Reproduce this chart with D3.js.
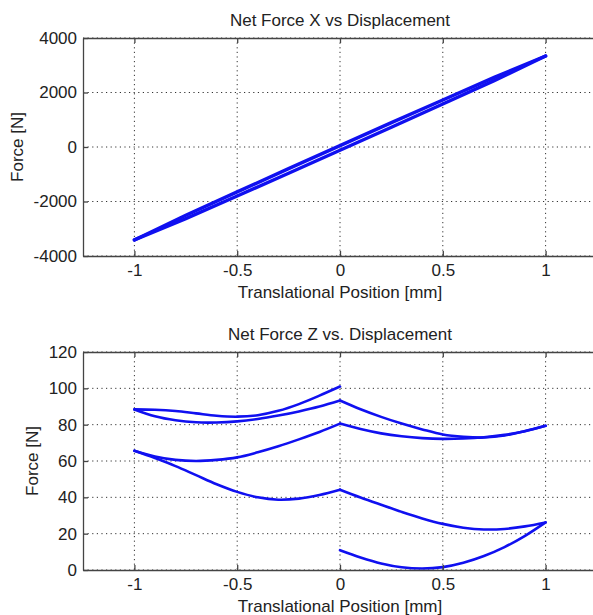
<!DOCTYPE html>
<html>
<head>
<meta charset="utf-8">
<script src="https://cdn.jsdelivr.net/npm/d3@7"></script>
<style>
  html, body { margin: 0; padding: 0; background: #fff; }
  svg { display: block; }
  text { font-family: Arial, "Liberation Sans", sans-serif; fill: #222; }
</style>
</head>
<body>
<svg id="chart" width="593" height="615"></svg>
<script>
// ---------- DATA ----------
const xTicks = [-1, -0.5, 0, 0.5, 1];
const yTicksX = [-4000, -2000, 0, 2000, 4000];
const yTicksZ = [0, 20, 40, 60, 80, 100, 120];

// Net Force X: hysteresis loop (two branches)
const fxPos = [-1, -0.75, -0.5, -0.25, 0, 0.25, 0.5, 0.75, 1];
const fxUpper = [-3410, -2506, -1647, -794, 50, 894, 1727, 2556, 3340];
const fxLower = [-3410, -2626, -1797, -964, -120, 724, 1577, 2436, 3340];

// Net Force Z: sweep segments in time order
const zLeft = [0, -0.1, -0.2, -0.3, -0.4, -0.5, -0.6, -0.7, -0.8, -0.9, -1];
const zRightFromNeg = [-1, -0.9, -0.8, -0.7, -0.6, -0.5, -0.4, -0.3, -0.2, -0.1, 0];
const zRight = [0, 0.1, 0.2, 0.3, 0.4, 0.5, 0.6, 0.7, 0.8, 0.9, 1];
const zBack = [1, 0.9, 0.8, 0.7, 0.6, 0.5, 0.4, 0.3, 0.2, 0.1, 0];

const zSegA = [101, 96, 91.3, 87.6, 85.2, 84.4, 84.9, 86.2, 87.5, 88.2, 88.4];   // 0 -> -1
const zSegB = [88.4, 84.6, 82.4, 81.3, 81.2, 81.8, 83.1, 85.0, 87.3, 90.0, 93.3]; // -1 -> 0
const zSegC = [93.3, 88.5, 84.3, 80.6, 77.4, 74.6, 73.3, 72.9, 74.0, 76.5, 79.4]; // 0 -> 1
const zSegD = [79.4, 76.4, 74.4, 73.1, 72.4, 72.2, 72.6, 73.6, 75.2, 77.6, 80.6]; // 1 -> 0
const zSegE = [80.6, 76.0, 71.9, 68.1, 64.8, 62.0, 60.6, 60.0, 60.6, 62.5, 65.6]; // 0 -> -1
const zSegF = [65.6, 61.6, 57.2, 52.2, 47.2, 43.0, 40.0, 38.7, 39.3, 41.3, 44.2]; // -1 -> 0
const zSegG = [44.2, 39.9, 35.9, 32.0, 28.4, 25.4, 23.3, 22.3, 22.6, 24.0, 26.2]; // 0 -> 1
const zSegH = [26.2, 18.8, 12.6, 7.7, 4.0, 1.6, 0.8, 1.5, 3.6, 6.9, 10.9];      // 1 -> 0

// ---------- DRAW ----------
const svg = d3.select("#chart");
const blue = "#1010f0";
const axisColor = "#444";
const fmt = d => String(d);

function panel(cfg) {
  const x = d3.scaleLinear().domain([-1.25, 1.25]).range([83, 597]);
  const y = d3.scaleLinear().domain(cfg.yDomain).range([cfg.bottom, cfg.top]);
  const g = svg.append("g");

  // grid
  g.append("g").selectAll("line").data(xTicks).join("line")
    .attr("x1", d => x(d)).attr("x2", d => x(d))
    .attr("y1", cfg.top).attr("y2", cfg.bottom)
    .attr("stroke", "#333").attr("stroke-width", 1).attr("stroke-dasharray", "1.2,3.4");
  g.append("g").selectAll("line").data(cfg.yTicks).join("line")
    .attr("x1", 83).attr("x2", 597)
    .attr("y1", d => y(d)).attr("y2", d => y(d))
    .attr("stroke", "#333").attr("stroke-width", 1).attr("stroke-dasharray", "1.2,3.4");

  // data
  const clipId = "clip" + cfg.top;
  svg.append("clipPath").attr("id", clipId).append("rect")
    .attr("x", 83).attr("y", cfg.top - 3).attr("width", 520).attr("height", cfg.bottom - cfg.top + 3);
  const dg = g.append("g").attr("clip-path", `url(#${clipId})`);
  cfg.draw(dg, x, y);

  // axes
  const ax = g.append("g").attr("transform", `translate(0,${cfg.bottom})`)
    .call(d3.axisBottom(x).tickValues(xTicks).tickFormat(fmt).tickSizeInner(-5).tickSizeOuter(0).tickPadding(8));
  const axT = g.append("g").attr("transform", `translate(0,${cfg.top})`)
    .call(d3.axisTop(x).tickValues(xTicks).tickFormat("").tickSizeInner(-5).tickSizeOuter(0));
  const ay = g.append("g").attr("transform", `translate(83,0)`)
    .call(d3.axisLeft(y).tickValues(cfg.yTicks).tickFormat(fmt).tickSizeInner(-5).tickSizeOuter(0).tickPadding(6));
  [ax, axT, ay].forEach(a => {
    a.select(".domain").attr("stroke", axisColor).attr("stroke-width", 1.3);
    a.selectAll(".tick line").attr("stroke", axisColor).attr("stroke-width", 1.3);
    a.selectAll("text").attr("font-size", 17).attr("fill", "#222")
      .style("font-family", 'Arial, "Liberation Sans", sans-serif');
  });

  // titles & labels
  g.append("text").attr("x", 340).attr("y", cfg.top - 18).attr("text-anchor", "middle")
    .attr("dominant-baseline", "central").attr("font-size", 17).text(cfg.title);
  g.append("text").attr("x", 340).attr("y", cfg.bottom + 36).attr("text-anchor", "middle")
    .attr("dominant-baseline", "central").attr("font-size", 17).text("Translational Position [mm]");
  g.append("text").attr("transform", `translate(${cfg.ylabX},${(cfg.top + cfg.bottom) / 2}) rotate(-90)`)
    .attr("text-anchor", "middle").attr("dominant-baseline", "central").attr("font-size", 17).text("Force [N]");
}

panel({
  top: 38, bottom: 256, yDomain: [-4000, 4000], yTicks: yTicksX,
  title: "Net Force X vs Displacement", ylabX: 17,
  draw: (dg, x, y) => {
    const line = d3.line().x(d => x(d[0])).y(d => y(d[1]));
    const up = fxPos.map((p, i) => [p, fxUpper[i]]);
    const lo = fxPos.map((p, i) => [p, fxLower[i]]);
    [up, lo].forEach(pts => {
      dg.append("path").attr("d", line(pts)).attr("fill", "none")
        .attr("stroke", blue).attr("stroke-width", 3.4).attr("stroke-linecap", "round").attr("stroke-linejoin", "round");
    });
  }
});

panel({
  top: 352, bottom: 570, yDomain: [0, 120], yTicks: yTicksZ,
  title: "Net Force Z vs. Displacement", ylabX: 32,
  draw: (dg, x, y) => {
    const line = d3.line().x(d => x(d[0])).y(d => y(d[1])).curve(d3.curveCatmullRom.alpha(0.5));
    const segs = [
      [zLeft, zSegA], [zRightFromNeg, zSegB], [zRight, zSegC], [zBack, zSegD],
      [zLeft, zSegE], [zRightFromNeg, zSegF], [zRight, zSegG], [zBack, zSegH]
    ];
    segs.forEach(([xs, fs]) => {
      const pts = xs.map((p, i) => [p, fs[i]]);
      dg.append("path").attr("d", line(pts)).attr("fill", "none")
        .attr("stroke", blue).attr("stroke-width", 2.6).attr("stroke-linecap", "round").attr("stroke-linejoin", "round");
    });
  }
});
</script>
</body>
</html>
